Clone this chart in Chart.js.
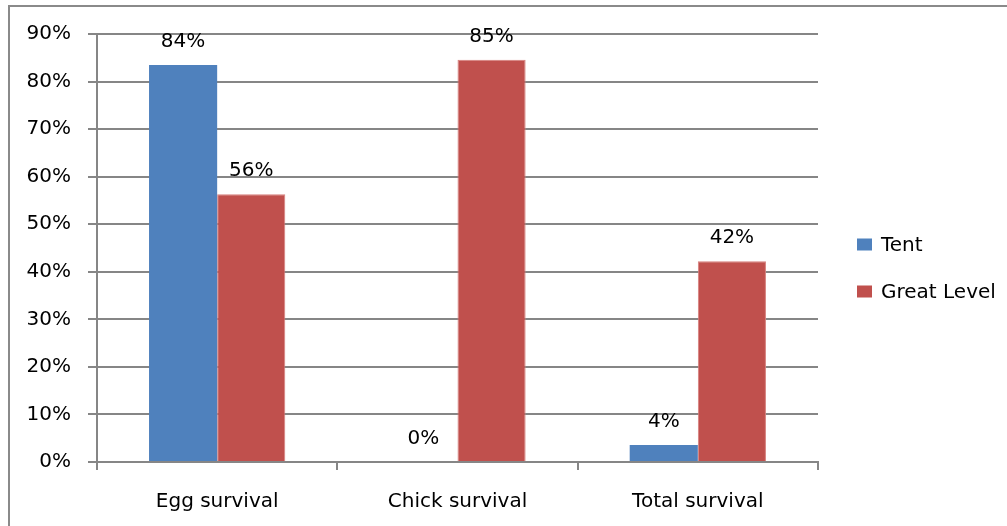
<!DOCTYPE html>
<html>
<head>
<meta charset="utf-8">
<script src="https://cdn.jsdelivr.net/npm/chart.js@4.4.0/dist/chart.umd.min.js"></script>
<style>
  html, body { margin: 0; padding: 0; background: #fff; }
  #wrap { position: relative; width: 1007px; height: 526px; overflow: hidden; }
  #frame { position: absolute; left: 8px; top: 5px; width: 1100px; height: 600px;
           border-top: 2px solid #8a8a8a; border-left: 2px solid #8a8a8a; box-sizing: border-box; }
  canvas { position: absolute; left: 0; top: 0; }
</style>
</head>
<body>
<div id="wrap">
  <div id="frame"></div>
  <canvas id="chart" width="1007" height="526"></canvas>
</div>
<script>
// values (percent)
const categories = ['Egg survival', 'Chick survival', 'Total survival'];
const tentValues = [83.5, 0, 3.6];
const greatLevelValues = [56.3, 84.6, 42.2];
const seriesNames = ['Tent', 'Great Level'];

const gray = '#868686';
const fontFamily = '"DejaVu Sans", sans-serif';
const fontSize = 20;

// write the value above each bar
const valueLabels = {
    id: 'valueLabels',
    afterDatasetsDraw(chart) {
        const ctx = chart.ctx;
        ctx.save();
        ctx.fillStyle = '#000';
        ctx.font = fontSize + 'px ' + fontFamily;
        ctx.textAlign = 'center';
        ctx.textBaseline = 'alphabetic';
        chart.data.datasets.forEach((ds, i) => {
            chart.getDatasetMeta(i).data.forEach((bar, j) => {
                ctx.fillText(Math.round(ds.data[j]) + '%', bar.x, bar.y - 18);
            });
        });
        ctx.restore();
    }
};

// legend to the right of the plot, the built-in one cuts the long label
const sideLegend = {
    id: 'sideLegend',
    afterDraw(chart) {
        const ctx = chart.ctx;
        const x = chart.chartArea.right + 39;
        const rowGap = 47;
        const items = chart.data.datasets;
        let y = chart.height / 2 + 5 - rowGap * (items.length - 1) / 2;
        ctx.save();
        ctx.font = fontSize + 'px ' + fontFamily;
        ctx.textBaseline = 'middle';
        ctx.textAlign = 'left';
        items.forEach(ds => {
            ctx.fillStyle = ds.backgroundColor;
            ctx.fillRect(x, y - 6, 15, 12);
            ctx.fillStyle = '#000';
            ctx.fillText(ds.label, x + 24, y + 1);
            y += rowGap;
        });
        ctx.restore();
    }
};

new Chart(document.getElementById('chart'), {
    type: 'bar',
    data: {
        labels: categories,
        datasets: [{
            label: seriesNames[0],
            data: tentValues,
            backgroundColor: '#4F81BD',
            borderWidth: 0
        }, {
            label: seriesNames[1],
            data: greatLevelValues,
            backgroundColor: '#C0504D',
            borderColor: '#d77f7c',
            borderWidth: 1
        }]
    },
    options: {
        responsive: false,
        animation: false,
        categoryPercentage: 0.567,
        barPercentage: 1,
        layout: {
            padding: { left: 25, top: 34, right: 189, bottom: 14 }
        },
        plugins: {
            legend: { display: false },
            tooltip: { enabled: false }
        },
        scales: {
            x: {
                grid: {
                    drawOnChartArea: false,
                    color: gray,
                    lineWidth: 2,
                    tickLength: 8
                },
                border: { color: gray, width: 2 },
                ticks: {
                    color: '#000',
                    padding: 20,
                    font: { family: fontFamily, size: fontSize }
                },
                afterFit: s => { s.height = 50; }
            },
            y: {
                min: 0,
                max: 90,
                grid: {
                    color: gray,
                    lineWidth: 2,
                    tickLength: 9
                },
                border: { color: gray, width: 2 },
                ticks: {
                    stepSize: 10,
                    color: '#000',
                    padding: 17,
                    font: { family: fontFamily, size: fontSize },
                    callback: v => v + '%'
                },
                afterFit: s => { s.width = 72; }
            }
        }
    },
    plugins: [valueLabels, sideLegend]
});
</script>
</body>
</html>
